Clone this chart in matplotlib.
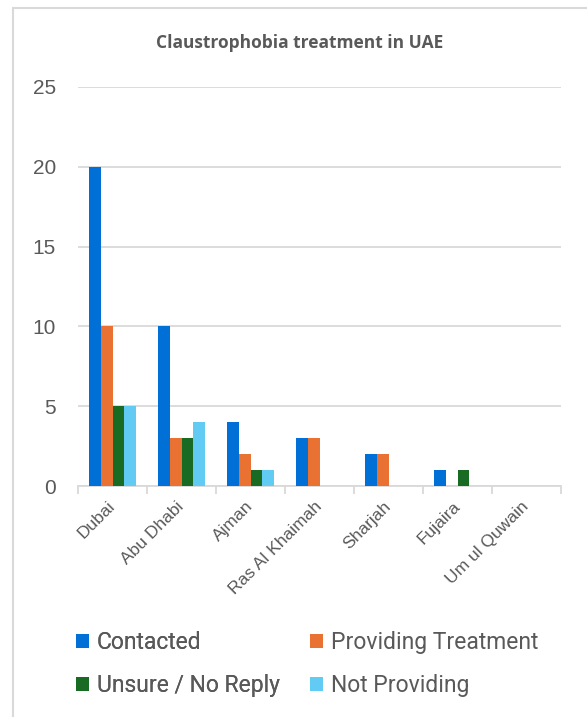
import matplotlib
matplotlib.use('Agg')
import matplotlib.pyplot as plt
import numpy as np
from matplotlib.patches import Rectangle, Patch

# data
emirates = ['Dubai', 'Abu Dhabi', 'Ajman', 'Ras Al Khaimah', 'Sharjah', 'Fujaira', 'Um ul Quwain']
contacted = [20, 10, 4, 3, 2, 1, 0]
providing = [10, 3, 2, 3, 2, 0, 0]
unsure = [5, 3, 1, 0, 0, 1, 0]
not_providing = [5, 4, 1, 0, 0, 0, 0]

series_names = ['Contacted', 'Providing Treatment', 'Unsure / No Reply', 'Not Providing']
colors = ['#0070D6', '#E97132', '#196B24', '#61CBF3']
text_color = '#595959'
grid_color = '#D9D9D9'

W, H = 587, 717
fig = plt.figure(figsize=(W / 100, H / 100), dpi=100)

# light chart-area border (runs off the right and bottom edges)
fig.patches.append(Rectangle((12.5 / W, -0.1), 1.2, 1 - 8 / H + 0.1,
                             transform=fig.transFigure, fill=False,
                             edgecolor=grid_color, linewidth=1.5))

ax = fig.add_axes([78 / W, 1 - 486 / H, (561 - 78) / W, (486 - 87) / H])

x = np.arange(len(emirates))
width = 0.17
all_series = [contacted, providing, unsure, not_providing]
for i, (vals, col) in enumerate(zip(all_series, colors)):
    ax.bar(x + (i - 1.5) * width, vals, width, color=col, zorder=3)

ax.set_xlim(-0.5, len(emirates) - 0.5)
ax.set_ylim(0, 25)
ax.set_yticks([0, 5, 10, 15, 20, 25])
ax.yaxis.grid(True, color=grid_color, linewidth=1.3, zorder=0)
ax.tick_params(axis='y', length=0, pad=16, labelsize=15, labelcolor=text_color)
for lbl in ax.get_yticklabels():
    lbl.set_family('Liberation Sans')

# category labels between boundary tick marks
ax.set_xticks(np.arange(len(emirates) + 1) - 0.5)
ax.set_xticklabels([])
ax.tick_params(axis='x', length=6, width=1.3, color=grid_color, direction='out')
ax.set_xticks(x, minor=True)
ax.set_xticklabels(emirates, minor=True, rotation=45, ha='right', va='center',
                   rotation_mode='anchor', fontsize=12.5, color=text_color,
                   family='Liberation Sans')
ax.tick_params(axis='x', which='minor', length=0, pad=13)

for side in ['top', 'right', 'left']:
    ax.spines[side].set_visible(False)
ax.spines['bottom'].set_color(grid_color)
ax.spines['bottom'].set_linewidth(1.3)

fig.text(300 / W, 1 - 43 / H, 'Claustrophobia treatment in UAE', ha='center', va='center',
         fontsize=12.5, fontweight='bold', color=text_color, family='Open Sans')

# legend: two columns placed like the reference
handles = [Patch(facecolor=c, edgecolor='none') for c in colors]
leg_kw = dict(loc='center left', frameon=False, handlelength=0.57, handleheight=0.57,
              handletextpad=0.35, labelspacing=0.88, labelcolor=text_color,
              borderpad=0, borderaxespad=0, prop={'family': 'Roboto', 'size': 16.5})
leg1 = fig.legend([handles[0], handles[2]], [series_names[0], series_names[2]],
                  bbox_to_anchor=(76 / W, 1 - 664 / H), **leg_kw)
fig.add_artist(leg1)
fig.legend([handles[1], handles[3]], [series_names[1], series_names[3]],
           bbox_to_anchor=(310 / W, 1 - 664 / H), **leg_kw)

fig.savefig('out.png', dpi=100)
